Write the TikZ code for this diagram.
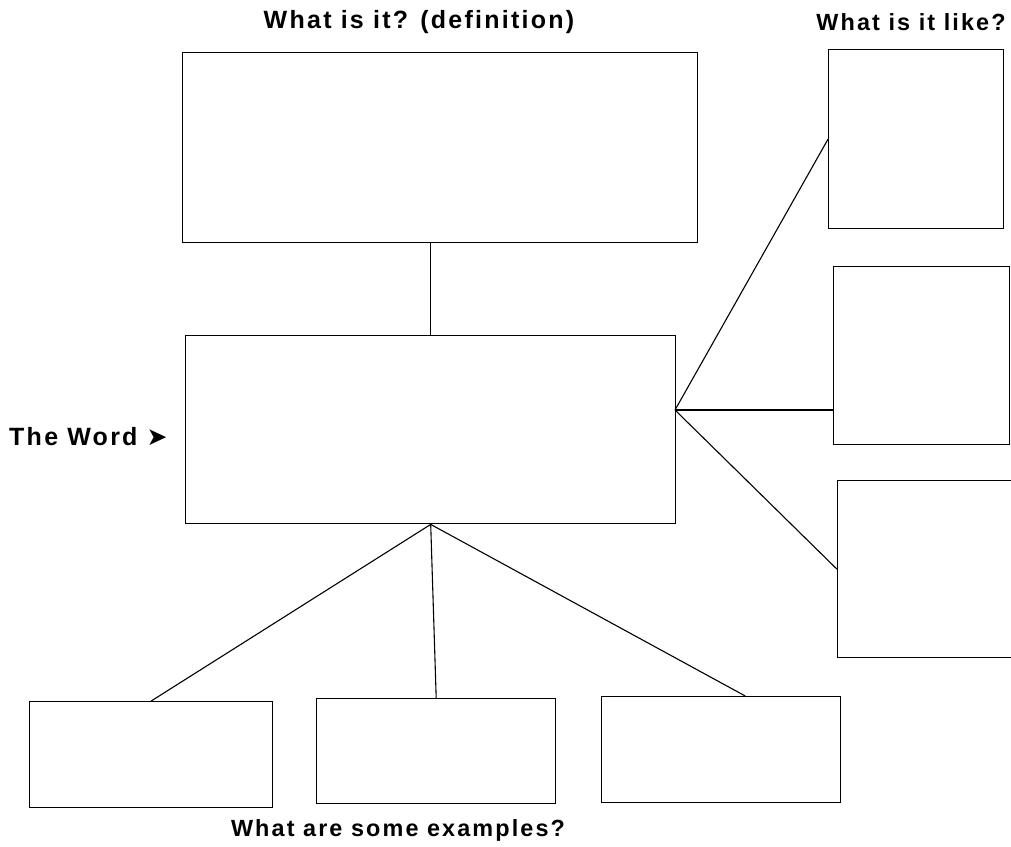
\documentclass[tikz,border=0pt]{standalone}
\usepackage{fontspec}
\setmainfont{Liberation Sans}[LetterSpace=9]
\newfontfamily\symfont{DejaVu Sans}
\usetikzlibrary{calc}
\begin{document}
\begin{tikzpicture}[x=1pt,y=-1pt,
  box/.style={draw, line width=1.4pt, inner sep=0pt, anchor=north west},
  link/.style={line width=1.1pt},
  caption/.style={font=\fontsize{25}{28}\selectfont\bfseries, inner sep=0pt},
  smallcap/.style={font=\fontsize{23.4}{26}\selectfont\bfseries, inner sep=0pt}]
\useasboundingbox (0,0) rectangle (1011,846);
\clip (0,0) rectangle (1011,846);

% definition box and the word itself
\node[box, minimum width=515pt, minimum height=190pt] (def) at (182,52) {};
\node[box, minimum width=490pt, minimum height=188pt] (word) at (185,335) {};

% "what is it like?" column
\node[box, minimum width=175pt, minimum height=179pt] (like1) at (828,49) {};
\node[box, minimum width=176pt, minimum height=178pt] (like2) at (833,266) {};
\node[box, minimum width=185pt, minimum height=177pt] (like3) at (837,480) {};

% examples row
\node[box, minimum width=243pt, minimum height=106pt] (ex1) at (29,701) {};
\node[box, minimum width=239pt, minimum height=105pt] (ex2) at (316,698) {};
\node[box, minimum width=239pt, minimum height=106pt] (ex3) at (601,696) {};

% labels
\node[caption] (tdef) at (419,22) {What is it? (definition)};
\node[smallcap] (tlike) at (911,22) {What is it like?};
\node[caption, anchor=west] (tword) at (9,437) {The Word\hspace{9pt}{\symfont\fontsize{25}{26}\selectfont ➤}};
\node[smallcap] (tex) at (398,830) {What are some examples?};

% connectors
\coordinate (hub) at (675,410);
\draw[link] (word.north) -- (word.north |- def.south);
\draw[link] (hub) -- (like1.west);
\draw[link] (hub) -- (hub -| like2.west);
\draw[link] (hub) -- (like3.west);
\draw[link] (word.south) -- (ex1.north);
\draw[link] (word.south) -- (ex2.north);
\draw[link] (word.south) -- ($(ex3.north west)!0.6!(ex3.north east)$);
\end{tikzpicture}
\end{document}
